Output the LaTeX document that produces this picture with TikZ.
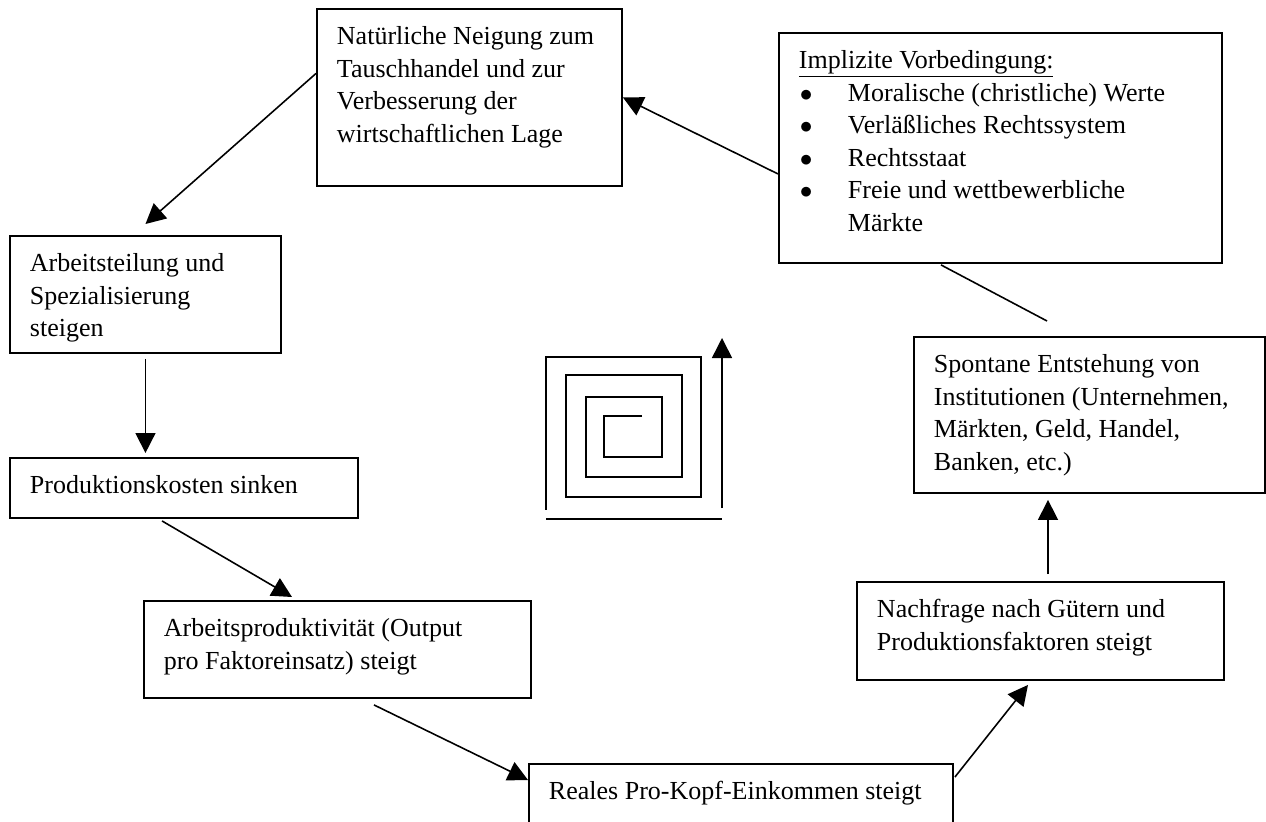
\documentclass[tikz,border=0pt]{standalone}
\usepackage{fontspec}
\setmainfont{Liberation Serif}
\usetikzlibrary{arrows.meta, calc}

\newdimen\pxu
\pxu=0.02cm

% Fixed size text block: width, height (in pixels), lines
\newcommand{\boxtext}[3]{\parbox[t][#2\pxu][t]{#1\pxu}{\begin{tabular}[t]{@{}l@{}}#3\end{tabular}}}
\newcommand{\itembullet}{\hspace*{1\pxu}\makebox[48\pxu][l]{$\bullet$}}

\tikzset{
	stepbox/.style = {draw, line width = 1.1pt, inner xsep = 0.4cm, inner ysep = 0.26cm, anchor = north west, font = \fontsize{14.8pt}{18.5pt}\selectfont},
	link/.style = {line width = 0.9pt}
}

\begin{document}
\begin{tikzpicture}[x = 0.02cm, y = -0.02cm, > = {Triangle[length = 0.4cm, width = 0.4cm]}]

	\useasboundingbox (0, 0) rectangle (1266, 821);

	% Boxes (top left corners, in pixels)

	\node [stepbox] (nat) at (316, 8) {\boxtext{265}{151}{Natürliche Neigung zum\\ Tauschhandel und zur\\ Verbesserung der\\ wirtschaftlichen Lage}};
	\node [stepbox] (vor) at (778, 32) {\boxtext{403}{204}{\underline{Implizite Vorbedingung:}\\ \itembullet Moralische (christliche) Werte\\ \itembullet Verläßliches Rechtssystem\\ \itembullet Rechtsstaat\\ \itembullet Freie und wettbewerbliche\\ \hspace*{49\pxu}Märkte}};
	\node [stepbox] (arb) at (9, 235) {\boxtext{231}{91}{Arbeitsteilung und\\ Spezialisierung\\ steigen}};
	\node [stepbox] (kost) at (9, 457) {\boxtext{308}{34}{Produktionskosten sinken}};
	\node [stepbox] (prod) at (143, 600) {\boxtext{347}{71}{Arbeitsproduktivität (Output\\ pro Faktoreinsatz) steigt}};
	\node [stepbox] (eink) at (528, 763) {\boxtext{384}{36}{Reales Pro-Kopf-Einkommen steigt}};
	\node [stepbox] (nach) at (856, 581) {\boxtext{327}{72}{Nachfrage nach Gütern und\\ Produktionsfaktoren steigt}};
	\node [stepbox] (inst) at (913, 336) {\boxtext{311}{130}{Spontane Entstehung von\\ Institutionen (Unternehmen,\\ Märkten, Geld, Handel,\\ Banken, etc.)}};

	% Cycle arrows

	\draw [link, ->] ([yshift = -0.52cm] vor.west) -- (nat.east);
	\draw [link, ->] ([yshift = 0.48cm] nat.west) -- ([yshift = 0.22cm] arb.north);
	\draw [link, ->] ($(arb.south) + (0, 5)$) -- ($(kost.north -| arb.south) + (0, -4)$);
	\draw [link, ->] ($(kost.south west) + (153, 2)$) -- ($(prod.north west) + (149, -3)$);
	\draw [link, ->] ($(prod.south west) + (231, 6)$) -- ($(eink.north west) + (0, 17)$);
	\draw [link, ->] ($(eink.north east) + (1, 14)$) -- ($(nach.south west) + (172, 4)$);
	\draw [link, ->] ($(nach.north west) + (192, -7)$) -- ($(inst.south west) + (135, 6)$);
	\draw [link] ($(vor.south west) + (163, 1)$) -- ($(inst.north west) + (134, -15)$);

	% Square spiral with upward arrow

	\draw [link] (642, 416) -- (604, 416) -- (604, 457) -- (662, 457) -- (662, 397) -- (586, 397) -- (586, 477) -- (682, 477) -- (682, 375) -- (566, 375) -- (566, 497) -- (701, 497) -- (701, 357) -- (546, 357) -- (546, 510);
	\draw [link] (546, 519) -- (722, 519);
	\draw [link, ->] (722, 508) -- (722, 338);

\end{tikzpicture}
\end{document}
